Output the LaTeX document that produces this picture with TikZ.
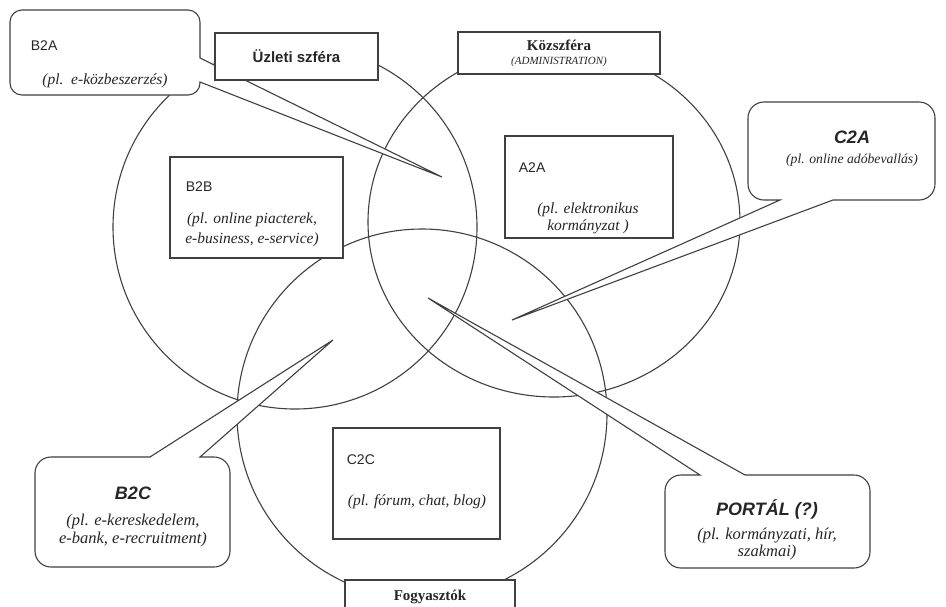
\documentclass[tikz,border=0pt]{standalone}
\usepackage{fontspec}
\setmainfont{Liberation Serif}
\setsansfont{Liberation Sans}
\usetikzlibrary{calc,shapes.geometric}

\begin{document}
\begin{tikzpicture}[
  x=1pt, y=-1pt,
  line width=1.1pt,
  sphere/.style={draw=black!75, inner sep=0pt, outer sep=0pt},
  box/.style={draw=black!75, fill=white, inner sep=0pt, outer sep=0pt},
  body/.style={inner sep=0pt, outer sep=0pt},
  bubble/.style={draw=black!75, fill=white, rounded corners=#1},
  bubble/.default=16pt,
  code/.style={font=\sffamily\fontsize{14}{16}\selectfont, text=black!85},
  tag/.style={font=\sffamily\bfseries\itshape\fontsize{18}{20}\selectfont, text=black!85},
  note/.style={font=\itshape\fontsize{15.5}{18}\selectfont, align=center, text=black!85},
  bignote/.style={note, font=\itshape\fontsize{16.5}{18}\selectfont},
  head/.style={font=\bfseries\fontsize{15}{17}\selectfont, align=center, text=black!85},
]
\path[use as bounding box, fill=white] (0,0) rectangle (946,606);

\node[sphere, circle, minimum size=364pt] (business) at (295,227) {};
\node[sphere, ellipse, minimum width=372pt, minimum height=350pt] (admin) at (554,222) {};
\node[sphere, circle, minimum size=370pt] (consumer) at (422,414) {};

\node[body, minimum width=190pt, minimum height=85pt] (b2a) at (105,52.5) {};
\coordinate (b2a-tip) at (442,177);
\draw[bubble=12pt] (b2a.north) -- (b2a.north east)
  [sharp corners] -- ($(b2a.north east)+(0,48)$) -- (b2a-tip) -- ($(b2a.south east)+(0,-13)$)
  [rounded corners=12pt] -- (b2a.south east) -- (b2a.south west) -- (b2a.north west) -- cycle;

\node[body, minimum width=187pt, minimum height=98pt] (c2a) at (841.5,151) {};
\coordinate (c2a-tip) at (512,320);
\draw[bubble] (c2a.north) -- (c2a.north east) -- (c2a.south east)
  [sharp corners] -- ($(c2a.south west)+(85,0)$) -- (c2a-tip) -- ($(c2a.south west)+(32,0)$)
  [rounded corners=16pt] -- (c2a.south west) -- (c2a.north west) -- cycle;

\node[body, minimum width=195pt, minimum height=110pt] (b2c) at (132.5,512) {};
\coordinate (b2c-tip) at (333,340);
\draw[bubble] (b2c.south) -- (b2c.south west) -- (b2c.north west)
  [sharp corners] -- ($(b2c.north west)+(115,0)$) -- (b2c-tip) -- ($(b2c.north west)+(165,0)$)
  [rounded corners=16pt] -- (b2c.north east) -- (b2c.south east) -- cycle;

\node[body, minimum width=205pt, minimum height=93pt] (portal) at (767.5,521.5) {};
\coordinate (portal-tip) at (428,298);
\draw[bubble] (portal.south) -- (portal.south west) -- (portal.north west)
  [sharp corners] -- ($(portal.north west)+(35,0)$) -- (portal-tip) -- ($(portal.north west)+(80,0)$)
  [rounded corners=16pt] -- (portal.north east) -- (portal.south east) -- cycle;

\node[box, minimum width=163pt, minimum height=47pt, font=\sffamily\bfseries\fontsize{15}{17}\selectfont, text=black!85] (uzleti) at (296.5,56.5) {Üzleti szféra};
\node[box, head, minimum width=202pt, minimum height=42pt] (kozszfera) at (559,53) {Közszféra\\[-3pt]{\mdseries\itshape\fontsize{11}{13}\selectfont (ADMINISTRATION)}};
\node[box, head, minimum width=170pt, minimum height=34pt] (fogyasztok) at (430,597) {Fogyasztók};

\node[box, minimum width=173pt, minimum height=101pt] (b2b) at (256.5,207.5) {};
\node[box, minimum width=168pt, minimum height=102pt] (a2a) at (589,187) {};
\node[box, minimum width=167pt, minimum height=111pt] (c2c) at (416.5,483.5) {};

\node[code, anchor=west] (b2a-name) at (27,46) {B2A};
\node[note] (b2a-note) at (105,81) {(pl.\ \ e-közbeszerzés)};
\node[tag] (c2a-name) at (852,137) {C2A};
\node[note, font=\itshape\fontsize{13.7}{16}\selectfont] (c2a-note) at (852,160) {(pl. online adóbevallás)};
\node[code, anchor=west] (b2b-name) at (182,187) {B2B};
\node[note] (b2b-note) at (252,230) {(pl. online piacterek,\\[2pt]e-business, e-service)};
\node[code, anchor=west] (a2a-name) at (515,168) {A2A};
\node[note] (a2a-note) at (588,218) {(pl. elektronikus\\[-1pt]kormányzat )};
\node[tag] (b2c-name) at (133,493) {B2C};
\node[bignote] (b2c-note) at (133,531) {(pl. e-kereskedelem,\\e-bank, e-recruitment)};
\node[code, anchor=west] (c2c-name) at (343,460) {C2C};
\node[note] (c2c-note) at (417,502) {(pl. fórum, chat, blog)};
\node[tag] (portal-name) at (767,509) {PORTÁL (?)};
\node[bignote] (portal-note) at (767,544) {(pl. kormányzati, hír,\\[-1pt]szakmai)};
\end{tikzpicture}
\end{document}
